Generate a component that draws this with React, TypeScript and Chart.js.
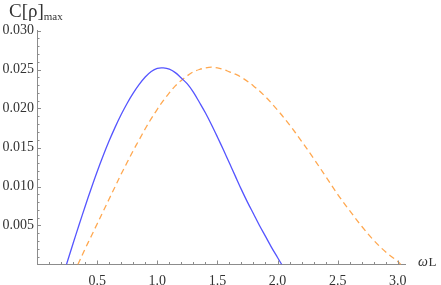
import React, { useEffect, useRef } from "react";
import { Chart, registerables } from "chart.js";

Chart.register(...registerables);

const blueX = [0.245, 0.3, 0.35, 0.4, 0.45, 0.5, 0.55, 0.6, 0.65, 0.7, 0.75, 0.8, 0.85, 0.9, 0.95, 1.0, 1.05, 1.1, 1.15, 1.2, 1.25, 1.3, 1.35, 1.4, 1.45, 1.5, 1.55, 1.6, 1.65, 1.7, 1.75, 1.8, 1.85, 1.9, 1.95, 2.0, 2.035];
const blueY = [0.0, 0.0027, 0.0051, 0.00744, 0.00972, 0.0119, 0.01394, 0.01585, 0.01761, 0.01923, 0.02068, 0.02197, 0.02309, 0.02404, 0.02475, 0.02515, 0.0252, 0.02505, 0.0246, 0.0239, 0.02315, 0.0221, 0.0208, 0.01945, 0.01795, 0.01635, 0.0147, 0.013, 0.0113, 0.0096, 0.008, 0.0065, 0.005, 0.0036, 0.0022, 0.0009, 0.0];

const orangeX = [0.34, 0.4, 0.45, 0.5, 0.55, 0.6, 0.65, 0.7, 0.75, 0.8, 0.85, 0.9, 0.95, 1.0, 1.05, 1.1, 1.15, 1.2, 1.25, 1.3, 1.35, 1.4, 1.45, 1.5, 1.55, 1.6, 1.65, 1.7, 1.8, 1.9, 2.0, 2.1, 2.2, 2.3, 2.4, 2.5, 2.6, 2.7, 2.8, 2.9, 3.0, 3.025];
const orangeY = [0.0, 0.002, 0.0036, 0.0052, 0.0068, 0.0084, 0.01, 0.0116, 0.0131, 0.0146, 0.016, 0.0174, 0.0187, 0.0199, 0.021, 0.022, 0.0229, 0.0236, 0.0242, 0.0247, 0.025, 0.0252, 0.0253, 0.0252, 0.025, 0.0247, 0.0244, 0.024, 0.0229, 0.0215, 0.0198, 0.0179, 0.0158, 0.0136, 0.0113, 0.009, 0.0069, 0.0049, 0.0031, 0.0016, 0.0004, 0.0];

const xMajorTicks = [0.5, 1.0, 1.5, 2.0, 2.5, 3.0];
const yMajorTicks = [0.005, 0.01, 0.015, 0.02, 0.025, 0.03];

const AXIS_COLOR = "#8c8c8c";
const TEXT_COLOR = "#333333";
const FONT = '"Liberation Serif", "Times New Roman", serif';

const ticksPlugin = {
  id: "mmaTicks",
  afterDraw(chart: any) {
    const ctx = chart.ctx;
    const xs = chart.scales.x;
    const ys = chart.scales.y;
    const area = chart.chartArea;
    ctx.save();
    ctx.strokeStyle = AXIS_COLOR;
    ctx.lineWidth = 1;
    for (let i = 1; i <= 30; i++) {
      const v = i / 10;
      const px = Math.round(xs.getPixelForValue(v)) + 0.5;
      const len = i % 5 === 0 ? 4 : 2.5;
      ctx.beginPath();
      ctx.moveTo(px, area.bottom);
      ctx.lineTo(px, area.bottom - len);
      ctx.stroke();
    }
    for (let i = 1; i <= 30; i++) {
      const v = i / 1000;
      const py = Math.round(ys.getPixelForValue(v)) + 0.5;
      const len = i % 5 === 0 ? 4 : 2.5;
      ctx.beginPath();
      ctx.moveTo(area.left, py);
      ctx.lineTo(area.left + len, py);
      ctx.stroke();
    }
    ctx.fillStyle = TEXT_COLOR;
    ctx.textBaseline = "alphabetic";
    ctx.textAlign = "left";
    ctx.font = `19px ${FONT}`;
    const t1 = "C[ρ]";
    ctx.fillText(t1, 9, 17);
    const w1 = ctx.measureText(t1).width;
    ctx.font = `11px ${FONT}`;
    ctx.fillText("max", 9 + w1, 19.5);
    ctx.font = `italic 14px ${FONT}`;
    ctx.fillText("ω", 418, 266);
    const ww = ctx.measureText("ω").width;
    ctx.font = `13px ${FONT}`;
    ctx.fillText("L", 418 + ww + 0.5, 266);
    ctx.restore();
  },
};

export default function App() {
  const ref = useRef<HTMLCanvasElement | null>(null);
  useEffect(() => {
    if (!ref.current) return;
    const chart = new Chart(ref.current, {
      type: "line",
      data: {
        datasets: [
          {
            label: "blue",
            data: blueX.map((x, i) => ({ x, y: blueY[i] })),
            borderColor: "rgb(85,85,255)",
            borderWidth: 1.3,
            pointRadius: 0,
            tension: 0.35,
            fill: false,
          },
          {
            label: "orange",
            data: orangeX.map((x, i) => ({ x, y: orangeY[i] })),
            borderColor: "rgb(255,168,80)",
            borderWidth: 1.3,
            borderDash: [6, 4],
            pointRadius: 0,
            tension: 0.35,
            fill: false,
          },
        ],
      },
      options: {
        animation: false,
        responsive: false,
        maintainAspectRatio: false,
        events: [],
        layout: { padding: { top: 30.5, right: 36, left: 0, bottom: 0 } },
        plugins: { legend: { display: false }, tooltip: { enabled: false }, title: { display: false } },
        scales: {
          x: {
            type: "linear",
            min: 0,
            max: 3.06,
            grid: { display: false, drawTicks: false },
            border: { display: true, color: AXIS_COLOR, width: 1 },
            ticks: {
              stepSize: 0.5,
              includeBounds: false,
              autoSkip: false,
              maxRotation: 0,
              padding: 8,
              color: TEXT_COLOR,
              font: { family: FONT, size: 14 },
              callback: (v: any) => {
                const n = Number(v);
                return xMajorTicks.some((t) => Math.abs(t - n) < 1e-6) ? n.toFixed(1) : "";
              },
            },
            afterFit: (s: any) => {
              s.height = 20.5;
            },
          },
          y: {
            type: "linear",
            min: 0,
            max: 0.03,
            grid: { display: false, drawTicks: false },
            border: { display: true, color: AXIS_COLOR, width: 1 },
            ticks: {
              stepSize: 0.005,
              autoSkip: false,
              padding: 3,
              color: TEXT_COLOR,
              font: { family: FONT, size: 14 },
              callback: (v: any) => {
                const n = Number(v);
                return yMajorTicks.some((t) => Math.abs(t - n) < 1e-9) ? n.toFixed(3) : "";
              },
            },
            afterFit: (s: any) => {
              s.width = 37;
            },
          },
        },
      },
      plugins: [ticksPlugin],
    });
    return () => chart.destroy();
  }, []);
  return (
    <div style={{ position: "absolute", left: 0, top: 0, width: 441, height: 285, background: "#fff" }}>
      <canvas ref={ref} width={441} height={285} style={{ width: 441, height: 285, display: "block" }} />
    </div>
  );
}
